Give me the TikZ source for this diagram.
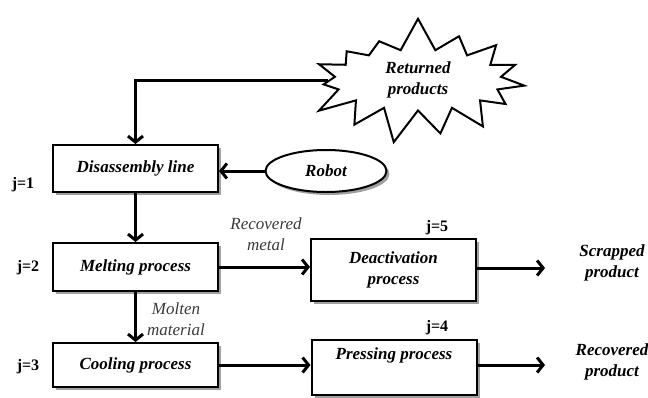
\documentclass[tikz,border=0pt]{standalone}
\usepackage{fontspec}
\setmainfont{Liberation Serif}
\usetikzlibrary{arrows.meta,positioning,shapes.geometric,shapes.symbols,shadows}
\definecolor{shadowgray}{HTML}{A0A0A0}
\definecolor{notegray}{HTML}{3A3A3A}

\begin{document}
\begin{tikzpicture}[x=1pt,y=-1pt,
      proc/.style={draw,fill=white,line width=2pt,minimum width=165pt,align=center,
        font=\fontsize{17}{21}\selectfont\bfseries\itshape,
        drop shadow={shadow xshift=3pt,shadow yshift=-3pt,fill=shadowgray,opacity=1}},
      jlabel/.style={font=\fontsize{16}{18}\selectfont\bfseries},
      note/.style={align=center,text=notegray,font=\fontsize{17}{21}\selectfont\itshape},
      outtext/.style={align=center,font=\fontsize{17}{21}\selectfont\bfseries\itshape},
      arr/.style={-{Straight Barb[length=6pt,width=15pt]},line width=3pt}
    ]
    \useasboundingbox (0,0) rectangle (648,397);
    \node[proc,minimum height=47pt] (dis) at (135.5,168.5) {Disassembly line};
    \node[proc,minimum height=48pt] (melt) at (135.5,267) {Melting process};
    \node[proc,minimum height=44pt] (cool) at (135.5,365) {Cooling process};
    \node[proc,minimum height=62pt] (deact) at (393.5,270) {Deactivation\\process};
    \node[proc,minimum height=55pt] (press) at (394,367.5) {Pressing process\\\strut};
    \node[proc,ellipse,minimum width=121pt,minimum height=42pt] (robot) at (326,171) {Robot};
    \node[draw,fill=white,line width=2pt,starburst,starburst points=15,starburst point height=34pt,
      random starburst=7,minimum width=235pt,minimum height=124pt,align=center,
      font=\fontsize{17}{21}\selectfont\bfseries\itshape] (burst) at (418,80) {Returned\\products};
    \node[jlabel] (j1) at (23,185) {j=1};
    \node[jlabel] (j2) at (28,268) {j=2};
    \node[jlabel] (j3) at (28,367) {j=3};
    \node[jlabel] (j5) at (437,228) {j=5};
    \node[jlabel] (j4) at (437,328) {j=4};
    \node[note] (metal) at (266,234) {Recovered\\metal};
    \node[note] (molten) at (176,319) {Molten\\material};
    \node[outtext] (scrap) at (612,263) {Scrapped\\product};
    \node[outtext] (recov) at (612,362) {Recovered\\product};
    \coordinate (scrapend) at (545,268);
    \coordinate (recovend) at (545,365);
    \draw[arr] (burst.west) -| (dis.north);
    \draw[arr] (robot.west) -- (robot.west -| dis.east);
    \draw[arr] (dis) -- (melt);
    \draw[arr] (melt) -- (cool);
    \draw[arr] (melt.east) -- (melt.east -| deact.west);
    \draw[arr] (cool.east) -- (cool.east -| press.west);
    \draw[arr] (deact.east |- scrapend) -- (scrapend);
    \draw[arr] (press.east |- recovend) -- (recovend);
  \end{tikzpicture}
\end{document}
